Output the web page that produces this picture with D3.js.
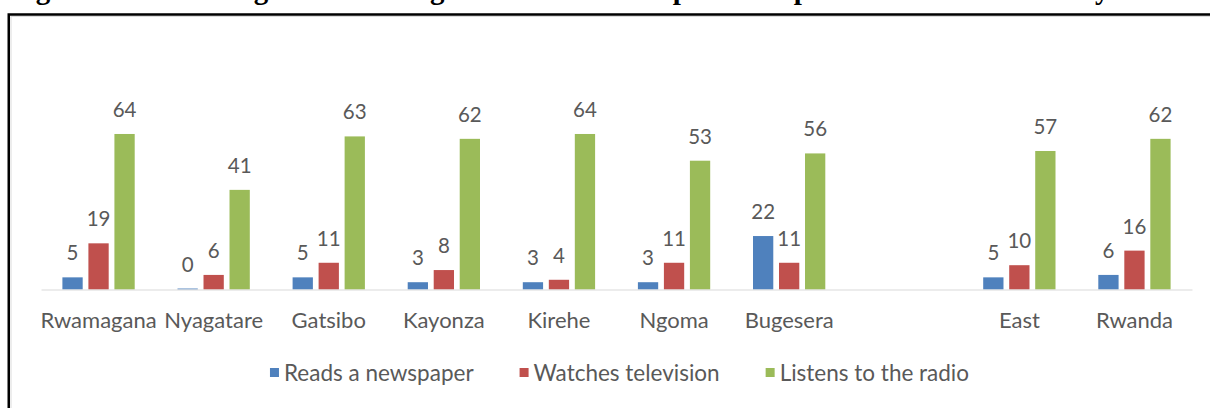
<!DOCTYPE html>
<html>
<head>
<meta charset="utf-8">
<script src="https://cdn.jsdelivr.net/npm/d3@7"></script>
<style>
  body { margin: 0; background: #fff; }
  svg { display: block; }
</style>
</head>
<body>
<script>
// chart data
const categories = ['Rwamagana', 'Nyagatare', 'Gatsibo', 'Kayonza', 'Kirehe', 'Ngoma', 'Bugesera', '', 'East', 'Rwanda'];
const seriesNames = ['Reads a newspaper', 'Watches television', 'Listens to the radio'];
const newspaper = [5, 0.4, 5, 3, 3, 3, 22, null, 5, 6];
const television = [19, 6, 11, 8, 4, 11, 11, null, 10, 16];
const radio = [64, 41, 63, 62, 64, 53, 56, null, 57, 62];
const colors = ['#4f81bd', '#c0504d', '#9bbb59'];
const titleText = 'Figure 10: Percentage of women age 15-49 who are exposed to specific media on a weekly basis';

const W = 1210, H = 408;
const font = 'Lato, "Open Sans", sans-serif';
const grey = '#595959';

const rows = categories.map((c, i) => ({
  cat: c,
  vals: [newspaper[i], television[i], radio[i]]
}));

const svg = d3.select('body').append('svg')
  .attr('width', W)
  .attr('height', H);

// title, cut off by the top edge like in the source page
svg.append('text')
  .attr('x', 10)
  .attr('y', -1.5)
  .attr('font-family', '"Liberation Serif", "Times New Roman", serif')
  .attr('font-weight', 'bold')
  .attr('font-size', 29)
  .attr('fill', '#000')
  .text(titleText);

// frame
svg.append('rect')
  .attr('x', 8.75).attr('y', 14.5)
  .attr('width', W + 20).attr('height', H + 20)
  .attr('fill', 'none')
  .attr('stroke', '#000')
  .attr('stroke-width', 2.5);
svg.append('rect')
  .attr('x', 11).attr('y', 16.5)
  .attr('width', W + 20).attr('height', H + 20)
  .attr('fill', 'none')
  .attr('stroke', '#dcdcdc')
  .attr('stroke-width', 1);

const plot = { left: 41, right: 1192, base: 289.5 };

const x0 = d3.scaleBand()
  .domain(d3.range(categories.length))
  .range([plot.left, plot.right])
  .padding(0);

const groupW = 72.3;
const x1 = d3.scaleBand()
  .domain(d3.range(seriesNames.length))
  .range([(x0.bandwidth() - groupW) / 2, (x0.bandwidth() + groupW) / 2])
  .paddingInner(0.22)
  .paddingOuter(0);

const y = d3.scaleLinear()
  .domain([0, 70])
  .range([plot.base, plot.base - 70 * 2.43]);

// bars
const groups = svg.append('g')
  .selectAll('g')
  .data(rows)
  .join('g')
  .attr('transform', (d, i) => `translate(${x0(i)},0)`);

const cells = groups.selectAll('g')
  .data(d => d.vals.map((v, k) => ({ v, k })).filter(e => e.v != null))
  .join('g');

cells.append('rect')
  .attr('x', d => x1(d.k))
  .attr('width', x1.bandwidth())
  .attr('y', d => y(d.v))
  .attr('height', d => y(0) - y(d.v))
  .attr('fill', d => colors[d.k]);

cells.append('text')
  .attr('x', d => x1(d.k) + x1.bandwidth() / 2)
  .attr('y', d => y(d.v) - 17)
  .attr('text-anchor', 'middle')
  .attr('font-family', font)
  .attr('font-size', 20.5)
  .attr('fill', grey)
  .text(d => d3.format('.0f')(d.v));

// category axis
const axis = svg.append('g')
  .attr('transform', `translate(0,${plot.base})`)
  .call(d3.axisBottom(x0).tickSize(0).tickSizeOuter(0).tickFormat(i => categories[i]));

axis.select('.domain')
  .attr('stroke', '#d9d9d9')
  .attr('stroke-width', 1.2);

axis.selectAll('text')
  .attr('dy', 0)
  .attr('y', 328 - plot.base)
  .attr('font-family', font)
  .attr('font-size', 22)
  .attr('fill', grey);

// legend
const legend = svg.append('g');
const items = legend.selectAll('g')
  .data(seriesNames)
  .join('g');

items.append('rect')
  .attr('width', 9)
  .attr('height', 9)
  .attr('y', 368)
  .attr('fill', (d, i) => colors[i]);

items.append('text')
  .attr('x', 14)
  .attr('y', 380.5)
  .attr('font-family', font)
  .attr('font-size', 22.5)
  .attr('fill', grey)
  .text(d => d);

const itemW = [];
items.each(function () {
  itemW.push(14 + d3.select(this).select('text').node().getComputedTextLength());
});
const legendGap = 46;
const total = d3.sum(itemW) + legendGap * (itemW.length - 1);
let lx = 619.5 - total / 2;
items.each(function (d, i) {
  d3.select(this).attr('transform', `translate(${lx},0)`);
  lx += itemW[i] + legendGap;
});
</script>
</body>
</html>
